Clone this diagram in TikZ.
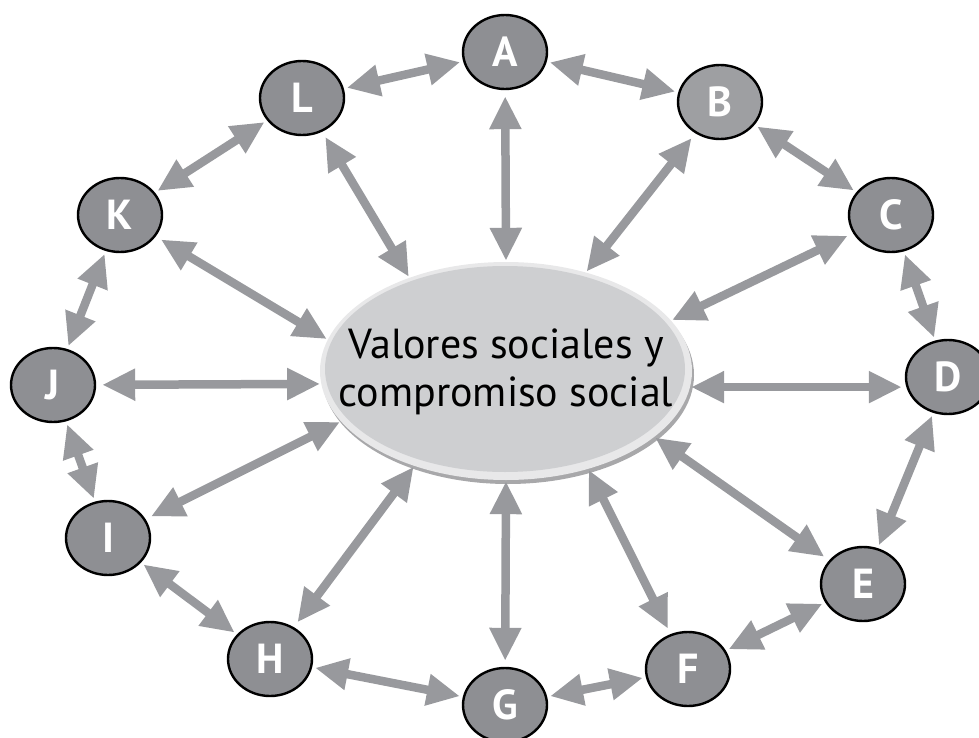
\documentclass[tikz,border=0pt]{standalone}
\usepackage{fontspec}
\setmainfont{PT Sans}
\usepackage{tikz}
\usetikzlibrary{arrows.meta, shapes.geometric}

\definecolor{nodegray}{RGB}{142,143,147}
\definecolor{lightnode}{RGB}{158,159,162}
\definecolor{arrowgray}{RGB}{152,153,157}
\definecolor{rimgray}{RGB}{232,232,233}
\definecolor{coregray}{RGB}{206,207,209}
\definecolor{shadegray}{RGB}{168,168,170}

\tikzset{
  letter/.style={ellipse, draw=black, line width=2.4pt, fill=nodegray, minimum width=84pt,
    minimum height=74pt, inner sep=0pt, text=white, font=\fontsize{42}{42}\selectfont\bfseries},
  link/.style={<->, draw=arrowgray, line width=8.5pt, >={Triangle[length=33pt, width=30pt]}}
}

\begin{document}
\begin{tikzpicture}[x=1pt, y=-1pt]
                \useasboundingbox (0,0) rectangle (979,738);
                % centre ellipse
                \fill[shadegray] (508,375) ellipse [x radius=186pt, y radius=109pt];
                \fill[rimgray] (506,371) ellipse [x radius=186pt, y radius=109pt];
                \fill[coregray] (505,369) ellipse [x radius=180pt, y radius=103pt];
                \node[ellipse, minimum width=372pt, minimum height=218pt, inner sep=0pt] (ctr) at (506,371) {};
                \node[align=center, font=\fontsize{42}{48}\selectfont] (title) at (506,372) {Valores sociales y\\compromiso social};

                \node[letter] (A) at (505,52) {A};
                \node[letter, fill=lightnode] (B) at (720,102) {B};
                \node[letter] (C) at (891,215) {C};
                \node[letter] (D) at (948,377) {D};
                \node[letter] (E) at (863,584) {E};
                \node[letter] (F) at (688,669) {F};
                \node[letter] (G) at (505,705) {G};
                \node[letter] (H) at (270,659) {H};
                \node[letter] (I) at (108,538) {I};
                \node[letter] (J) at (53,385) {J};
                \node[letter] (K) at (120,215) {K};
                \node[letter] (L) at (302,98) {L};

                \foreach \from/\to in {L/A, A/B, B/C, C/D, D/E, E/F, F/G, G/H, H/I, I/J, J/K, K/L}
                  \draw[link, shorten <=3pt, shorten >=3pt] (\from) -- (\to);
                \foreach \from/\ang in {A/90, B/51, C/17, E/336, F/310, G/270, H/226, I/197, J/184, K/170, L/136}
                  \draw[link, shorten <=6pt, shorten >=1pt] (\from) -- (ctr.\ang);
                \draw[link, shorten <=1pt, shorten >=3pt] (ctr.355) -- (ctr.355 -| D.west);
            \end{tikzpicture}
\end{document}
